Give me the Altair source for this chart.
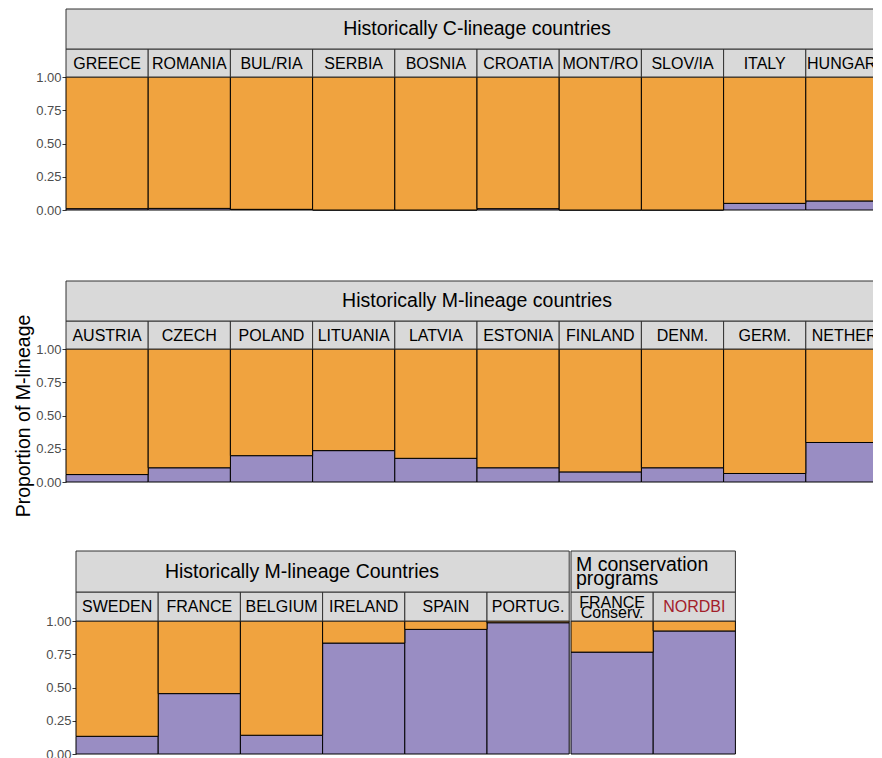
import altair as alt
import pandas as pd

ORANGE = "#F0A33F"
PURPLE = "#998DC3"
STRIP = "#D9D9D9"
BORDER = "#333333"
RED = "#A3202A"
FONT = "Liberation Sans"

# ---- data (proportion of M-lineage per country) ----
c_countries = ["GREECE", "ROMANIA", "BUL/RIA", "SERBIA", "BOSNIA", "CROATIA",
               "MONT/RO", "SLOV/IA", "ITALY", "HUNGARY"]
c_m = [0.010, 0.012, 0.005, 0.0, 0.0, 0.010, 0.0, 0.0, 0.050, 0.068]

m_countries = ["AUSTRIA", "CZECH", "POLAND", "LITUANIA", "LATVIA", "ESTONIA",
               "FINLAND", "DENM.", "GERM.", "NETHER."]
m_m = [0.056, 0.107, 0.198, 0.236, 0.178, 0.107, 0.076, 0.107, 0.064, 0.297]

m2_countries = ["SWEDEN", "FRANCE", "BELGIUM", "IRELAND", "SPAIN", "PORTUG."]
m2_m = [0.133, 0.454, 0.141, 0.834, 0.937, 0.987]

cons_countries = ["FRANCE\nConserv.", "NORDBI"]
cons_m = [0.766, 0.925]

group_titles = ["Historically C-lineage countries",
                "Historically M-lineage countries",
                "Historically M-lineage Countries",
                "M conservation\nprograms"]

tick_values = [0, 0.25, 0.5, 0.75, 1.0]
y_title = "Proportion of M-lineage"

PLOT_H = 133
STEP = 82.2


def group(countries, m_vals, title, axis_mode, shift=0, col_h=28, grp_h=40,
          title_align="center", title_x=None, title_top=None):
    df = pd.DataFrame({"country": countries, "M": m_vals})
    width = shift + STEP * len(countries)
    x = alt.X("country:N", sort=countries,
              scale=alt.Scale(paddingInner=0, paddingOuter=0,
                              range=[shift, width]), axis=None)
    if axis_mode is None:
        yaxis = None
    elif axis_mode == "title":
        yaxis = alt.Axis(values=tick_values, format=".2f", title=y_title,
                         offset=-shift)
    else:
        yaxis = alt.Axis(values=tick_values, format=".2f", title="M",
                         titleOpacity=0, offset=-shift)
    yscale = alt.Scale(domain=[0, 1], nice=False)
    base = alt.Chart(df)
    purple = base.mark_rect(fill=PURPLE, stroke="black", strokeWidth=1).encode(
        x=x, y=alt.Y("M:Q", scale=yscale, axis=yaxis), y2=alt.datum(0))
    orange = base.mark_rect(fill=ORANGE, stroke="black", strokeWidth=1).encode(
        x=x, y=alt.Y("M:Q", scale=yscale, axis=yaxis), y2=alt.datum(1))
    col_rect = base.mark_rect(fill=STRIP, stroke=BORDER, strokeWidth=1).encode(
        x=x, y=alt.value(-col_h), y2=alt.value(0))
    multi = "indexof(datum.country, '\\n') >= 0"
    col_text1 = base.transform_filter("!(" + multi + ")").mark_text(
        font=FONT, fontSize=16, baseline="middle").encode(
        x=x, y=alt.value(-col_h / 2 + 0.5), text="country:N",
        color=alt.condition(alt.datum.country == "NORDBI",
                            alt.value(RED), alt.value("black")))
    col_text2 = base.transform_filter(multi).mark_text(
        font=FONT, fontSize=16, lineBreak="\n", lineHeight=10,
        baseline="middle").encode(
        x=x, y=alt.value(-col_h + 11.2), text="country:N")
    gdf = pd.DataFrame({"title": [title]})
    gbase = alt.Chart(gdf)
    grp_rect = gbase.mark_rect(fill=STRIP, stroke=BORDER, strokeWidth=1).encode(
        x=alt.value(shift), x2=alt.value(width),
        y=alt.value(-col_h - grp_h), y2=alt.value(-col_h))
    tx = shift + ((width - shift) / 2 if title_x is None else title_x)
    ty = -col_h - grp_h / 2 if title_top is None else -col_h - grp_h + title_top
    grp_text = gbase.mark_text(font=FONT, fontSize=19.5, lineBreak="\n",
                               lineHeight=14.5, baseline="middle",
                               align=title_align).encode(
        x=alt.value(tx), y=alt.value(ty), text="title:N")
    return alt.layer(purple, orange, col_rect, col_text1, col_text2,
                     grp_rect, grp_text).properties(width=width, height=PLOT_H)


row1 = group(c_countries, c_m, group_titles[0], "hidden")
row2 = group(m_countries, m_m, group_titles[1], "title")
row3 = alt.hconcat(
    group(m2_countries, m2_m, group_titles[2], "hidden", shift=10,
          col_h=29, grp_h=41, title_x=226),
    group(cons_countries, cons_m, group_titles[3], None, col_h=29, grp_h=41,
          title_align="left", title_x=5, title_top=13.8),
    spacing=0,
)

top = alt.concat(row1, row2, columns=1, spacing=63)
chart = alt.concat(top, row3, columns=1, spacing=33).properties(
    padding={"left": 5, "top": 0, "right": -16, "bottom": 0}
).configure_view(stroke=None).configure_axis(
    labelFont=FONT, labelFontSize=13, labelColor="#4D4D4D",
    tickColor="#333333", tickSize=4, tickWidth=1, domain=False, grid=False,
    labelPadding=1, titlePadding=2, titleFont=FONT, titleFontSize=19.5,
    titleColor="black", titleFontWeight="normal",
)

chart.save("out.html", embed_options={"renderer": "svg", "actions": False})
